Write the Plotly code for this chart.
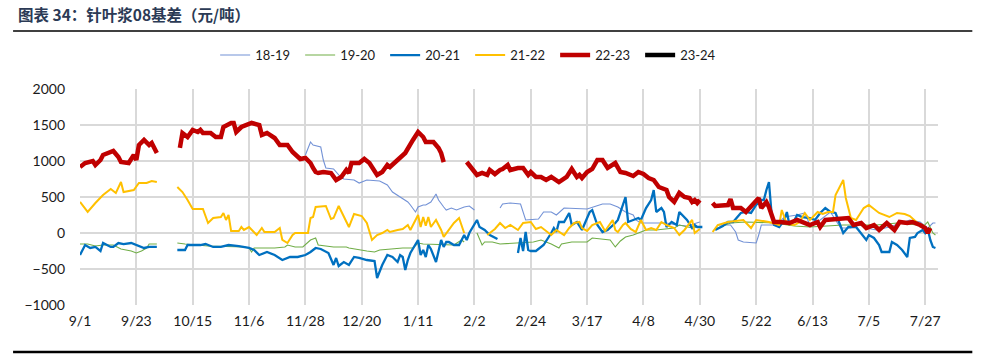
import plotly.graph_objects as go

# x axis: day index from 9/1 (0) to 7/31 (334)
tick_days = [0, 22, 44, 66, 88, 110, 132, 154, 176, 198, 220, 242, 264, 286, 308, 330]
tick_labels = ["9/1", "9/23", "10/15", "11/6", "11/28", "12/20", "1/11", "2/2",
               "2/24", "3/17", "4/8", "4/30", "5/22", "6/13", "7/5", "7/27"]

series_names = ["18-19", "19-20", "20-21", "21-22", "22-23", "23-24"]

# (day index, basis) ; None = gap
s1819 = [(88,1083),(90,1264),(91,1222),(94,1194),(95,1014),(96,903),(99,889),(101,806),(103,750),
         (107,736),(109,694),(112,736),(117,722),(120,667),(122,569),(125,500),(128,431),(129,389),
         (131,292),(132,361),(134,389),(135,389),(137,431),(139,542),(140,458),(142,361),(143,319),
         (145,347),(147,319),(150,361),(152,375),(154,319),(158,None),
         (164,347),(165,403),(168,417),(172,403),(174,181),(179,194),(181,292),(184,292),(186,250),
         (189,347),(198,333),(202,375),(204,403),(207,403),(210,361),(213,292),(216,250),(217,181),
         (219,139),(224,139),(229,139),(233,111),(237,97),(242,153),(245,None),
         (249,111),(254,111),(256,14),(257,-97),(259,-125),(264,-139),(265,-28),(266,111),(272,111),
         (275,222),(280,250),(283,278),(285,111),(289,181),(293,292),(297,69),(301,69),(303,139),
         (307,69),(311,42),(316,83),(321,139),(324,181),(328,153),(331,69),(333,139),(334,139)]

s1920 = [(0,-153),(3,-153),(6,-181),(9,-167),(13,-167),(16,-222),(18,-236),(20,-250),(22,-278),
         (24,-250),(26,-208),(27,-153),(30,-153),(34,None),
         (38,-139),(41,-153),(50,-181),(58,-194),(64,-194),(66,-208),(67,-264),(68,-208),(76,-208),
         (80,-194),(81,-167),(84,-194),(87,-194),(90,-97),(92,-69),(93,-167),(99,-194),(104,-194),
         (105,-208),(112,-250),(115,-264),(117,-236),(121,-222),(126,-208),(130,-208),(132,-139),
         (134,-153),(141,-167),(146,-167),(149,-97),(150,-125),(152,None),
         (155,0),(157,-167),(158,-125),(161,-125),(164,-153),(171,-139),(177,-125),(180,-97),
         (184,-153),(187,-208),(188,-153),(192,-125),(198,-125),(200,-69),(203,-83),(207,-97),
         (209,-194),(211,-111),(213,-55),(216,-28),(219,14),(221,42),(225,42),(228,56),(232,69),
         (234,111),(237,83),(239,69),(242,83),(245,None),
         (248,56),(249,69),(254,139),(260,153),(271,139),(279,97),(285,83),(298,111),(311,111),
         (319,139),(327,111),(329,83),(331,153),(333,0),(334,-28)]

s2021 = [(0,-306),(2,-167),(4,-208),(6,-194),(8,-250),(9,-139),(12,-194),(13,-194),(15,-139),
         (17,-153),(20,-139),(22,-167),(25,-208),(27,-194),(30,-194),(34,None),
         (38,-236),(41,-236),(42,-167),(47,-167),(49,-153),(52,-194),(55,-194),(58,-167),(62,-181),
         (66,-208),(68,-236),(70,-306),(73,-264),(76,-306),(79,-375),(82,-333),(85,-333),(88,-306),
         (90,-264),(92,-208),(94,-222),(97,-278),(99,-444),(100,-347),(101,-458),(103,-403),
         (105,-444),(107,-333),(109,-347),(112,-375),(115,-389),(116,-625),(118,-444),(120,-306),
         (122,-333),(124,-403),(125,-306),(126,-333),(127,-514),(128,-375),(129,-278),(132,-97),
         (133,-306),(134,-236),(135,-333),(136,-167),(137,-222),(138,-306),(139,-403),(141,-97),
         (142,-194),(143,-125),(144,-125),(146,-167),(148,-167),(150,-28),(151,-97),(152,0),
         (155,181),(156,83),(158,42),(160,-28),(163,-83),(167,None),
         (171,-278),(172,-69),(173,-250),(174,14),(175,-236),(176,-250),(178,-250),(181,-167),
         (184,0),(185,69),(186,14),(187,153),(189,153),(191,278),(192,111),(194,153),(196,42),
         (199,292),(200,319),(202,111),(204,14),(206,42),(209,139),(210,181),(213,500),(214,153),
         (216,181),(218,208),(219,181),(221,347),(223,458),(224,597),(225,292),(227,347),(228,292),
         (229,83),(231,153),(233,111),(234,292),(237,181),(239,69),(240,111),(241,83),(243,83),
         (245,None),
         (248,42),(251,97),(253,153),(255,153),(258,278),(260,292),(262,278),(264,389),(266,458),
         (267,458),(268,597),(269,708),(270,278),(271,111),(273,83),(275,181),(276,292),(277,111),
         (279,181),(280,250),(282,222),(285,208),(287,181),(289,278),(291,347),(293,292),(295,278),
         (297,83),(298,0),(300,83),(303,83),(307,-97),(308,-28),(310,-69),(312,-167),(313,-264),
         (316,-264),(317,-125),(319,-167),(321,-236),(323,-333),(324,-69),(326,-55),(327,0),
         (329,42),(330,0),(331,56),(332,-97),(333,-194),(334,-208)]

s2122 = [(0,431),(1,389),(3,292),(6,417),(9,528),(12,611),(14,556),(16,708),(17,569),(21,597),
         (23,694),(26,694),(28,722),(30,708),(34,None),
         (38,639),(40,569),(42,458),(44,333),(48,333),(50,139),(52,208),(55,222),(56,278),(57,181),
         (58,250),(59,28),(62,28),(63,83),(64,42),(66,83),(69,-28),(71,69),(72,14),(76,14),(78,69),
         (79,-97),(81,-139),(83,-28),(84,0),(87,0),(89,0),(90,208),(91,222),(92,361),(96,375),
         (98,194),(99,208),(101,375),(104,139),(105,83),(107,264),(110,236),(112,139),(114,-97),
         (116,-28),(118,0),(120,42),(121,14),(124,42),(126,56),(128,111),(129,42),(132,250),
         (133,83),(134,222),(135,100),(136,222),(137,83),(139,181),(141,42),(142,-55),(144,42),
         (146,139),(148,208),(150,0),(155,None),
         (159,-28),(162,56),(164,139),(166,69),(168,111),(171,42),(173,139),(176,153),(178,56),
         (180,83),(184,-28),(186,42),(189,-28),(191,69),(193,139),(195,153),(196,69),(198,28),
         (200,111),(203,153),(205,28),(206,83),(208,181),(209,42),(210,14),(212,111),(213,139),
         (215,56),(217,14),(219,181),(221,42),(223,69),(225,42),(227,153),(229,111),(232,69),
         (234,-28),(236,42),(239,181),(240,0),(242,56),(245,None),
         (247,14),(249,111),(253,153),(259,181),(262,69),(264,181),(269,153),(273,111),(274,319),
         (276,125),(279,111),(281,153),(283,278),(285,181),(288,292),(290,264),(292,292),(294,292),
         (295,528),(298,736),(299,486),(301,208),(303,181),(306,347),(308,389),(312,278),(316,222),
         (319,278),(322,264),(324,236),(327,139),(329,111),(332,0)]

s2223 = [(0,917),(2,972),(5,1000),(6,944),(8,1014),(9,1083),(13,1139),(15,1056),(16,986),(19,972),
         (21,1083),(22,1014),(23,1222),(25,1292),(27,1222),(28,1250),(30,1111),(35,None),
         (39,1181),(40,1389),(42,1333),(44,1431),(46,1403),(47,1431),(48,1389),(51,1389),(53,1333),
         (55,1333),(56,1472),(59,1528),(60,1528),(61,1403),(63,1472),(67,1528),(70,1500),(71,1361),
         (73,1389),(76,1319),(78,1222),(81,1222),(83,1125),(85,1056),(86,1028),(88,1042),(90,972),
         (91,903),(92,847),(93,833),(95,847),(98,833),(100,736),(102,778),(104,875),(105,833),
         (106,972),(109,972),(111,1028),(113,972),(116,806),(118,847),(120,944),(121,917),
         (124,1014),(127,1111),(130,1292),(132,1403),(134,1333),(135,1264),(138,1264),(140,1181),
         (141,1111),(142,986),(146,None),
         (151,986),(153,903),(155,806),(157,833),(159,806),(160,875),(162,819),(164,875),(165,889),
         (167,944),(168,875),(171,903),(173,903),(175,806),(176,847),(178,778),(180,778),(182,736),
         (184,778),(187,708),(190,778),(192,889),(194,778),(195,806),(196,764),(198,847),(200,889),
         (202,1014),(204,1014),(206,903),(209,972),(211,847),(213,833),(216,792),(218,847),
         (220,819),(222,764),(224,736),(226,639),(229,597),(230,500),(232,431),(234,556),(236,500),
         (238,486),(239,431),(240,458),(241,417),(242,458),(245,None),
         (247,417),(248,375),(253,389),(254,472),(255,347),(258,347),(260,292),(263,417),(265,486),
         (266,347),(268,431),(269,361),(271,153),(273,153),(277,139),(280,181),(282,153),(285,111),
         (288,153),(289,83),(291,181),(297,208),(300,208),(302,111),(305,139),(307,69),(310,111),
         (312,42),(315,139),(318,42),(320,153),(323,139),(325,153),(328,111),(330,69),(331,0),
         (332,69)]

s2324 = []

colors = ["#7392D6", "#70AD47", "#0070C0", "#FFC000", "#C00000", "#000000"]
widths = [1.1, 1.1, 2.3, 2.0, 4.5, 4.5]
all_series = [s1819, s1920, s2021, s2122, s2223, s2324]

fig = go.Figure()
for name, data, col, w in zip(series_names, all_series, colors, widths):
    xs = [d for d, v in data] if data else [None]
    ys = [v for d, v in data] if data else [None]
    fig.add_trace(go.Scatter(x=xs, y=ys, mode="lines", name=name,
                             line=dict(color=col, width=w), connectgaps=False))

grid = "#D9D9D9"
fig.update_layout(
    width=983, height=357,
    margin=dict(l=80, r=45, t=89, b=52, autoexpand=False),
    paper_bgcolor="white", plot_bgcolor="white",
    font=dict(family="Lato, 'Noto Sans', sans-serif", size=14, color="#1A1A1A"),
    showlegend=True,
    legend=dict(orientation="h", x=0.4547, xanchor="center", y=1.157, yanchor="middle",
                font=dict(size=13, color="#1A1A1A"), traceorder="normal",
                entrywidth=40, entrywidthmode="pixels", itemwidth=30),
    xaxis=dict(range=[0, 335], tickmode="array", tickvals=tick_days, ticktext=tick_labels,
               showgrid=True, gridcolor=grid, gridwidth=1.5, zeroline=False,
               showline=False, ticks="", ticklabelstandoff=6, fixedrange=True),
    yaxis=dict(range=[-1000, 2000], tickvals=[-1000, -500, 0, 500, 1000, 1500, 2000],
               showgrid=True, gridcolor=grid, gridwidth=1.5, zeroline=False,
               showline=False, ticks="", ticklabelstandoff=14, fixedrange=True),
    annotations=[dict(text="<b>图表 34：针叶浆08基差（元/吨）</b>", xref="paper", yref="paper",
                      x=-0.0746, y=1.347, xanchor="left", yanchor="middle", showarrow=False,
                      font=dict(family="'Noto Sans CJK SC', sans-serif", size=15.5, color="#2B3A55"))],
    shapes=[dict(type="line", xref="paper", yref="paper", x0=-0.078, x1=1.04, y0=1.2685, y1=1.2685,
                 line=dict(color="#000000", width=1.5)),
            dict(type="line", xref="paper", yref="paper", x0=-0.078, x1=1.04, y0=-0.2176, y1=-0.2176,
                 line=dict(color="#000000", width=2.5))],
)

fig.write_html("out.html", config={"displayModeBar": False},
               post_script="document.body.style.margin='0';")
